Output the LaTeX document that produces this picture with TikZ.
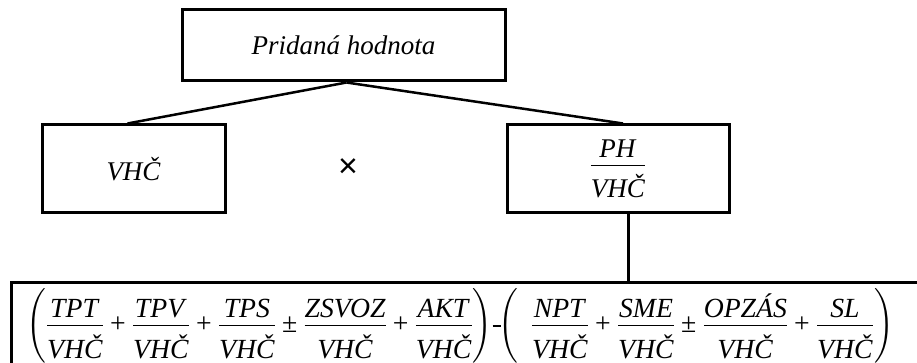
\RequirePackage{fix-cm}
\documentclass[tikz,border=0pt]{standalone}
\usepackage{amsmath}
\usepackage{fontspec}
\setmainfont{Liberation Serif}
\newfontfamily\xsymfont{Liberation Sans}
\usetikzlibrary{calc}
\newcommand{\fr}[2]{{\displaystyle\frac{\raisebox{-3.5pt}{\textit{#1}}}{\raisebox{-6.5pt}{\textit{#2}}}}}
\newcommand{\pl}{\mathbin{\text{+}}}
\newcommand{\plm}{\mathbin{\text{±}}}
\newcommand{\mn}{\mkern-3mu\raisebox{6.4pt}{\rule{8pt}{1.1pt}}\mkern-4mu}
\begin{document}
\begin{tikzpicture}[x=1pt,y=1pt,
  box/.style={draw, line width=3pt, inner sep=0pt, font=\fontsize{27}{32}\selectfont\itshape},
  conn/.style={line width=2.5pt},
  vconn/.style={line width=3pt}]
\useasboundingbox (0,0) rectangle (917,-363);
\clip (0,0) rectangle (917,-363);
\node[box, minimum width=323pt, minimum height=71pt] (top) at (343.5,-45.5) {Pridaná hodnota};
\node[box, minimum width=183pt, minimum height=88pt] (vhc) at (133.5,-169) {VHČ};
\node[box, minimum width=222pt, minimum height=88pt, font=\fontsize{27}{32}\selectfont] (ph) at (618,-169) {$\fr{PH}{VHČ}$};
\node[font=\xsymfont\fontsize{34}{40}\selectfont, inner sep=0pt] (times) at (348,-168) {×};
\node[draw, line width=3pt, minimum width=1000pt, minimum height=150pt, anchor=north west, inner sep=0pt] (bot) at (9.5,-281) {};
\node[anchor=base west, inner sep=0pt, font=\fontsize{27.7}{32}\selectfont] (formula) at (26,-332.9)
  {$\left(\fr{TPT}{VHČ}\pl\fr{TPV}{VHČ}\pl\fr{TPS}{VHČ}\plm\fr{ZSVOZ}{VHČ}\pl\fr{AKT}{VHČ}\right)\mn\left(\mkern8mu\fr{NPT}{VHČ}\pl\fr{SME}{VHČ}\plm\fr{OPZÁS}{VHČ}\pl\fr{SL}{VHČ}\right)$};
\draw[conn] ($(top.south)+(3,0)$) -- ($(vhc.north)+(-6,0)$);
\draw[conn] ($(top.south)+(3,0)$) -- ($(ph.north)+(5,0)$);
\draw[vconn] ($(ph.south)+(10,0)$) coordinate (v) -- (v |- bot.north);
\end{tikzpicture}
\end{document}
